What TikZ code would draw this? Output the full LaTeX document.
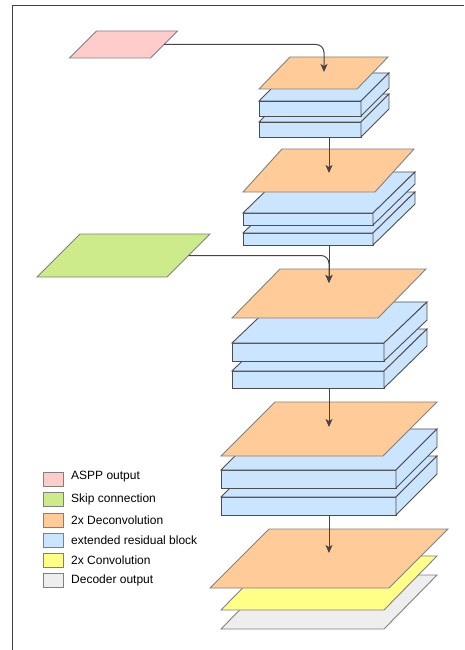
\documentclass[tikz,border=0pt]{standalone}
\usepackage{fontspec}
\setmainfont{Liberation Sans}
\usetikzlibrary{arrows.meta}
\definecolor{cpink}{HTML}{FFCCCC}
\definecolor{cgreen}{HTML}{CDEB8B}
\definecolor{corange}{HTML}{FFCC99}
\definecolor{cblue}{HTML}{CCE5FF}
\definecolor{cyellow}{HTML}{FFFF88}
\definecolor{cgray}{HTML}{EEEEEE}
\definecolor{pstroke}{HTML}{808080}
\definecolor{sstroke}{HTML}{4D4D4D}
\definecolor{lstroke}{HTML}{444444}
\tikzset{
  parast/.style={draw=pstroke, line width=0.9pt, line join=miter},
  slabst/.style={draw=sstroke, fill=cblue, line width=0.9pt},
  conn/.style={draw=lstroke, line width=1pt, rounded corners=8pt, -{Stealth[length=8pt,width=7pt,inset=2pt]}},
  legbox/.style={draw=pstroke, line width=0.9pt, minimum width=20pt, minimum height=14pt, inner sep=0pt},
  legtext/.style={anchor=west, inner sep=0pt, font=\fontsize{12}{14}\selectfont}
}
% parallelogram: fill colour, bottom-left x, y, width, dx, dy
\newcommand{\mypara}[6]{%
  \filldraw[parast, fill=#1] (#2,#3) -- ++(#4,0) -- ++(#5,-#6) -- ++(-#4,0) -- cycle;}
% slab: front top-left x, y, width, thickness, dx, dy
\newcommand{\myslab}[6]{%
  \filldraw[slabst] (#1,#2) rectangle ++(#3,#4);
  \filldraw[slabst] (#1,#2) -- ++(#3,0) -- ++(#5,-#6) -- ++(-#3,0) -- cycle;
  \filldraw[slabst] (#1+#3,#2) -- ++(#5,-#6) -- ++(0,#4) -- ++(-#5,#6) -- cycle;}
\begin{document}
\begin{tikzpicture}[x=1pt,y=-1pt]
\useasboundingbox (0,0) rectangle (464,650);
% frame (left and top edges visible)
\draw[draw=black!75, line width=1pt] (12,650) -- (12,6) -- (464,6);

% ASPP output and skip connection
\mypara{cpink}{69.5}{58}{81}{27}{27}
\coordinate (pinkout) at (164,44.5);
\mypara{cgreen}{37}{277}{130}{43}{43}
\coordinate (greenout) at (188.5,255.5);

% block 1
\myslab{259}{122}{102}{15}{28}{28}
\myslab{259}{101}{102}{15}{28}{28}
\mypara{corange}{259}{89}{98}{31}{32}
\coordinate (in1) at (324,72);
\coordinate (out1) at (329,137);

% block 2
\myslab{243}{233}{130}{12}{42}{41}
\myslab{243}{213}{130}{12}{42}{41}
\mypara{corange}{243}{192}{132}{39}{43}
\coordinate (in2) at (329,173);
\coordinate (out2) at (329,245);

% block 3
\myslab{232}{371}{152}{17}{43}{42}
\myslab{232}{343}{152}{18}{43}{41}
\mypara{corange}{232}{318}{146}{48}{49}
\coordinate (in3) at (329,283);
\coordinate (out3) at (329,388);

% block 4
\myslab{221}{497}{175}{18}{41}{41}
\myslab{221}{470}{175}{18}{41}{41}
\mypara{corange}{221}{456}{162}{54}{54}
\coordinate (in4) at (329,427);
\coordinate (out4) at (329,515);

% block 5
\mypara{cgray}{221}{629}{163}{53}{54}
\mypara{cyellow}{221}{610}{163}{53}{54}
\mypara{corange}{210}{588}{179}{59}{59}
\coordinate (in5) at (329,553);

% connectors
\draw[conn] (pinkout) -| (in1);
\draw[conn] (out1) -- (in2);
\draw[conn] (greenout) -| (in3);
\draw[conn] (out2) -- (in3);
\draw[conn] (out3) -- (in4);
\draw[conn] (out4) -- (in5);

% legend
\node[legbox, fill=cpink]   (l1) at (53,479) {};
\node[legbox, fill=cgreen]  (l2) at (53,499) {};
\node[legbox, fill=corange] (l3) at (53,520) {};
\node[legbox, fill=cblue]   (l4) at (53,540) {};
\node[legbox, fill=cyellow] (l5) at (53,560) {};
\node[legbox, fill=cgray]   (l6) at (53,580.5) {};
\node[legtext] (t1) at (71,477) {ASPP output};
\node[legtext] (t2) at (71,499) {Skip connection};
\node[legtext] (t3) at (71,520) {2x Deconvolution};
\node[legtext] (t4) at (71,540) {extended residual block};
\node[legtext] (t5) at (71,560) {2x Convolution};
\node[legtext] (t6) at (71,580.5) {Decoder output};
\end{tikzpicture}
\end{document}
